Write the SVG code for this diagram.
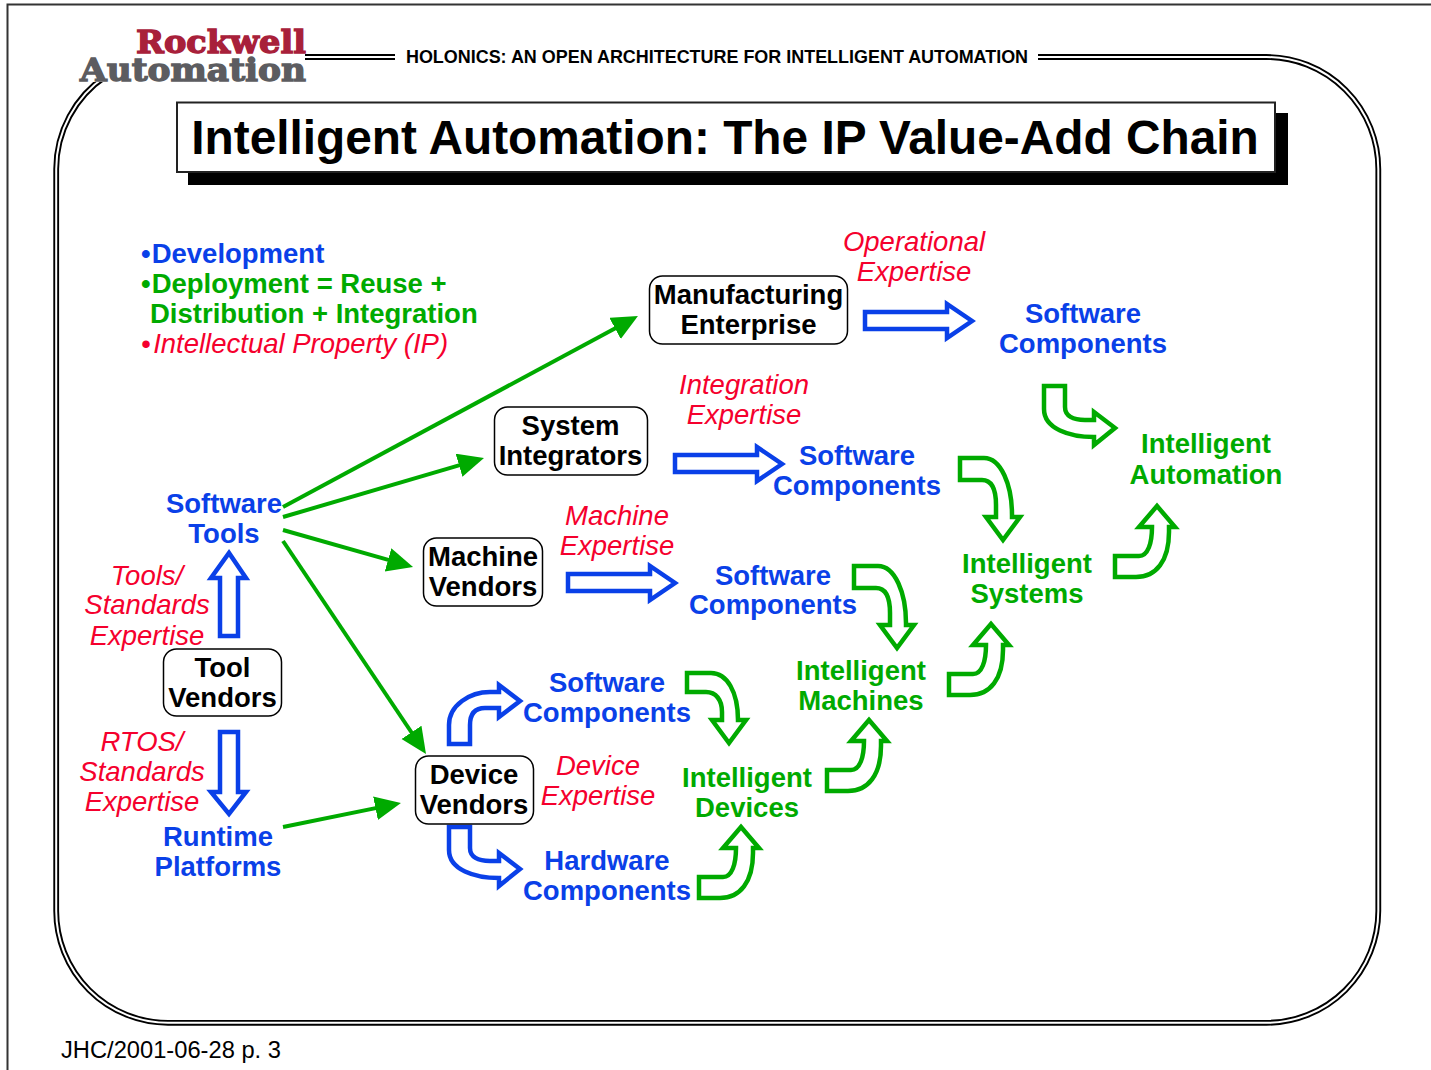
<svg xmlns="http://www.w3.org/2000/svg" xmlns:xlink="http://www.w3.org/1999/xlink" width="1431" height="1070" viewBox="0 0 1431 1070">
<style>
text{font-family:"Liberation Sans",Arial,sans-serif;font-size:27.5px;text-anchor:middle}
.b{font-weight:bold}
.blue{fill:#0a40e8;font-weight:bold}
.green{fill:#00aa00;font-weight:bold}
.red{fill:#f5002d;font-style:italic}
.l{text-anchor:start}
.node{fill:#fff;stroke:#000;stroke-width:1.5}
.ab{fill:#fff;stroke:#0a40e8;stroke-width:4.5;stroke-miterlimit:10}
.ag{fill:#fff;stroke:#00aa00;stroke-width:4.5;stroke-miterlimit:10}
.lnk{stroke:#00aa00;stroke-width:4;fill:none;marker-end:url(#tip)}
</style>
<defs>
<marker id="tip" markerUnits="userSpaceOnUse" markerWidth="30" markerHeight="26" refX="14" refY="12" orient="auto"><path d="M0 0L26 12L0 24Z" fill="#00aa00"/></marker>
<path id="straight" d="M865 312H947V304L972 321L947 338V329H865Z"/>
<path id="rup" d="M827 770H851C860 770 864 757 864 741H851L869 720L887 741H881V746C881 775 868 791 848 791H827Z"/>
<path id="rdown" d="M960 458H984C1001 458 1012 485 1012 515V517H1020L1003 540L986 517H996V505C996 490 992 480 982 480H960Z"/>
<path id="hook" d="M449 827V850C449 870 475 878 499 878V886L520 869L499 853V861H490C478 861 470 857 470 848V827Z"/>
</defs>
<rect width="1431" height="1070" fill="#fff"/>
<path d="M7.500 1070V4.500H1431" fill="none" stroke="#333" stroke-width="2"/>
<g id="border" fill="none">
<path d="M1038 57H1266A112 112 0 0 1 1378.300 169V911A112 112 0 0 1 1266 1022.800H168A112 112 0 0 1 56.200 911V169A112 112 0 0 1 106 76M305 57H395" stroke="#000" stroke-width="5.800"/>
<path d="M1038 57H1266A112 112 0 0 1 1378.300 169V911A112 112 0 0 1 1266 1022.800H168A112 112 0 0 1 56.200 911V169A112 112 0 0 1 106 76M305 57H395" stroke="#fff" stroke-width="2"/>
</g>
<g id="logo">
<rect x="80" y="28" width="225" height="54" fill="#fff"/>
<text class="l" x="136" y="53" textLength="170" lengthAdjust="spacingAndGlyphs" style="font-family:'DejaVu Serif',serif;font-weight:bold;font-size:31px;fill:#a8203a;stroke:#a8203a;stroke-width:1.300">Rockwell</text>
<text class="l" x="80" y="81" textLength="226" lengthAdjust="spacingAndGlyphs" style="font-family:'DejaVu Serif',serif;font-weight:bold;font-size:31px;fill:#5c5c60;stroke:#5c5c60;stroke-width:1.300">Automation</text>
</g>
<text id="header" class="b" x="717" y="63" style="font-size:17.950px">HOLONICS: AN OPEN ARCHITECTURE FOR INTELLIGENT AUTOMATION</text>
<g id="title">
<rect x="188" y="113" width="1100" height="72" fill="#000"/>
<rect x="177" y="102.500" width="1098" height="69.500" fill="#fff" stroke="#222" stroke-width="2"/>
<text class="b" x="725" y="154" style="font-size:47.800px">Intelligent Automation: The IP Value-Add Chain</text>
</g>
<g id="connectors">
<line class="lnk" x1="283" y1="507" x2="627.400" y2="321.700"/>
<line class="lnk" x1="283" y1="517" x2="472.500" y2="461.400"/>
<line class="lnk" x1="283" y1="530" x2="401.500" y2="563.700"/>
<line class="lnk" x1="283" y1="541" x2="419.300" y2="744"/>
<line class="lnk" x1="283" y1="827" x2="389.200" y2="805.400"/>
<use xlink:href="#straight" href="#straight" class="ab"/>
<use xlink:href="#straight" href="#straight" class="ab" x="-190" y="143"/>
<use xlink:href="#straight" href="#straight" class="ab" x="-297" y="262"/>
<path class="ab" d="M220 636H238V578H246L229 553L211 578H220Z"/>
<path class="ab" d="M220 732H238V792H246L229 814L211 792H220Z"/>
<use xlink:href="#hook" href="#hook" class="ab"/>
<path class="ab" d="M449 744V725C449 705 470 692 490 692H499V685L520 701L499 717V708H485C475 708 470 714 470 725V744Z"/>
<use xlink:href="#hook" href="#hook" class="ag" x="595" y="-441"/>
<use xlink:href="#rdown" href="#rdown" class="ag"/>
<use xlink:href="#rdown" href="#rdown" class="ag" x="-106" y="108"/>
<path class="ag" d="M687 673H711C727 673 738 692 738 720H746L729 743L712 720H722V712C722 700 716 692 706 692H687Z"/>
<use xlink:href="#rup" href="#rup" class="ag"/>
<use xlink:href="#rup" href="#rup" class="ag" x="122" y="-96"/>
<use xlink:href="#rup" href="#rup" class="ag" x="288" y="-214"/>
<use xlink:href="#rup" href="#rup" class="ag" x="-128" y="107"/>
</g>
<g id="legend">
<text class="blue l" x="141" y="263">•<tspan dx="1">Development</tspan></text>
<text class="green l" x="141" y="293">•<tspan dx="1">Deployment = Reuse +</tspan></text>
<text class="green l" x="150" y="323">Distribution + Integration</text>
<text class="red l" x="141" y="353">•<tspan dx="2.500">Intellectual Property (IP)</tspan></text>
</g>
<g id="manufacturing"><rect class="node" x="649.500" y="276" width="198" height="68" rx="13"/><text class="b" x="748.500" y="304">Manufacturing</text><text class="b" x="748.500" y="334">Enterprise</text></g>
<g id="system"><rect class="node" x="494.500" y="407" width="153" height="68" rx="13"/><text class="b" x="570.500" y="435">System</text><text class="b" x="570.500" y="465">Integrators</text></g>
<g id="machine"><rect class="node" x="423.500" y="538" width="119" height="68" rx="13"/><text class="b" x="483" y="566">Machine</text><text class="b" x="483" y="596">Vendors</text></g>
<g id="tool"><rect class="node" x="163.500" y="649" width="118" height="67" rx="13"/><text class="b" x="222.500" y="677">Tool</text><text class="b" x="222.500" y="707">Vendors</text></g>
<g id="device"><rect class="node" x="415.500" y="756" width="118" height="68" rx="13"/><text class="b" x="474" y="784">Device</text><text class="b" x="474" y="814">Vendors</text></g>
<g id="sc1"><text class="blue" x="1083" y="323">Software</text><text class="blue" x="1083" y="353">Components</text></g>
<g id="sc2"><text class="blue" x="857" y="465">Software</text><text class="blue" x="857" y="495">Components</text></g>
<g id="sc3"><text class="blue" x="773" y="585">Software</text><text class="blue" x="773" y="614">Components</text></g>
<g id="sc4"><text class="blue" x="607" y="692">Software</text><text class="blue" x="607" y="722">Components</text></g>
<g id="hc"><text class="blue" x="607" y="870">Hardware</text><text class="blue" x="607" y="900">Components</text></g>
<g id="swtools"><text class="blue" x="224" y="513">Software</text><text class="blue" x="224" y="543">Tools</text></g>
<g id="runtime"><text class="blue" x="218" y="846">Runtime</text><text class="blue" x="218" y="876">Platforms</text></g>
<g id="ia"><text class="green" x="1206" y="453">Intelligent</text><text class="green" x="1206" y="484">Automation</text></g>
<g id="is"><text class="green" x="1027" y="573">Intelligent</text><text class="green" x="1027" y="603">Systems</text></g>
<g id="im"><text class="green" x="861" y="680">Intelligent</text><text class="green" x="861" y="710">Machines</text></g>
<g id="id"><text class="green" x="747" y="787">Intelligent</text><text class="green" x="747" y="817">Devices</text></g>
<g id="exp1"><text class="red" x="914" y="251">Operational</text><text class="red" x="914" y="281">Expertise</text></g>
<g id="exp2"><text class="red" x="744" y="394">Integration</text><text class="red" x="744" y="424">Expertise</text></g>
<g id="exp3"><text class="red" x="617" y="525">Machine</text><text class="red" x="617" y="555">Expertise</text></g>
<g id="exp4"><text class="red" x="598" y="775">Device</text><text class="red" x="598" y="805">Expertise</text></g>
<g id="exp5"><text class="red" x="147" y="585">Tools/</text><text class="red" x="147" y="614">Standards</text><text class="red" x="147" y="645">Expertise</text></g>
<g id="exp6"><text class="red" x="142" y="751">RTOS/</text><text class="red" x="142" y="781">Standards</text><text class="red" x="142" y="811">Expertise</text></g>
<text id="footer" class="l" x="61" y="1058" style="font-size:23.700px">JHC/2001-06-28 p. 3</text>
</svg>
